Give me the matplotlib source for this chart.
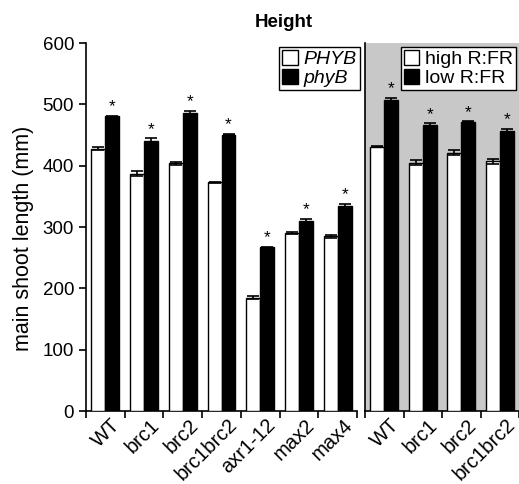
"""
Height: main shoot length for PHYB / phyB and high / low R:FR
"""

import matplotlib
matplotlib.use('Agg')
import matplotlib.pyplot as plt
from matplotlib.patches import Patch

plt.rcParams['font.family'] = ['Liberation Sans', 'DejaVu Sans']

# левая панель: PHYB / phyB
left_labels = ['WT', 'brc1', 'brc2', 'brc1brc2', 'axr1-12', 'max2', 'max4']
phyb_wt = [428, 387, 404, 373, 185, 290, 285]
phyb_wt_err = [2, 4, 2, 1, 2, 2, 2]
phyb_mut = [481, 441, 486, 451, 267, 310, 334]
phyb_mut_err = [1, 4, 4, 1, 1, 4, 4]

# правая панель: high / low R:FR
right_labels = ['WT', 'brc1', 'brc2', 'brc1brc2']
high_rfr = [431, 405, 421, 407]
high_rfr_err = [1, 4, 4, 4]
low_rfr = [507, 466, 472, 457]
low_rfr_err = [4, 3, 1, 3]

BAR_W = 0.36
FS = 13.5


def draw_panel(ax, labels, white, white_err, black, black_err):
    """
    Рисуем пары столбцов (белый / черный) со звездочками над черными
    """
    centers = [i + 0.5 for i in range(len(labels))]
    xw = [c - BAR_W / 2 for c in centers]
    xb = [c + BAR_W / 2 for c in centers]
    ax.bar(xw, white, BAR_W, yerr=white_err, color='white', edgecolor='black',
           linewidth=1.0, capsize=4, error_kw={'elinewidth': 1.2, 'capthick': 1.2},
           zorder=3)
    ax.bar(xb, black, BAR_W, yerr=black_err, color='black', edgecolor='black',
           linewidth=1.0, capsize=4, error_kw={'elinewidth': 1.2, 'capthick': 1.2},
           zorder=3)
    for x, v, e in zip(xb, black, black_err):
        ax.annotate('*', (x, v + e), xytext=(0, 1), textcoords='offset points',
                    ha='center', va='bottom', fontsize=12.5)
    ax.set_xlim(0, len(labels))
    ax.set_ylim(0, 600)
    ax.set_xticks(range(len(labels) + 1))
    ax.set_xticklabels([])
    # подписи групп под углом 45 градусов
    for c, lab in zip(centers, labels):
        ax.annotate(lab, (c, 0), xytext=(4, -3), textcoords='offset points',
                    ha='right', va='top', rotation=45, rotation_mode='anchor',
                    fontsize=14.5, annotation_clip=False)
    ax.spines['top'].set_visible(False)
    ax.spines['right'].set_visible(False)
    ax.tick_params(direction='out', length=5, width=1.2, labelsize=FS)
    for s in ('left', 'bottom'):
        ax.spines[s].set_linewidth(1.2)


fig = plt.figure(figsize=(5.19, 4.84), dpi=100)
ax1 = fig.add_axes([0.1657, 0.1508, 0.5223, 0.760])
ax2 = fig.add_axes([0.7033, 0.1508, 0.2967, 0.760])

draw_panel(ax1, left_labels, phyb_wt, phyb_wt_err, phyb_mut, phyb_mut_err)
draw_panel(ax2, right_labels, high_rfr, high_rfr_err, low_rfr, low_rfr_err)

ax1.set_yticks(range(0, 601, 100))
ax1.set_ylabel('main shoot length (mm)', fontsize=15.5)
ax1.yaxis.set_label_coords(-0.19, 0.47)
ax2.set_facecolor('#c8c8c8')
ax2.set_yticks([])

ax1.set_title('Height', fontsize=13.5, fontweight='bold', x=0.73, y=1.02)

h1 = [Patch(facecolor='white', edgecolor='black'),
      Patch(facecolor='black', edgecolor='black')]
leg1 = ax1.legend(h1, ['PHYB', 'phyB'], loc='upper right',
                  bbox_to_anchor=(1.01, 0.99), prop={'size': 14, 'style': 'italic'},
                  handlelength=0.8, handleheight=0.8, handletextpad=0.3,
                  borderpad=0.15, labelspacing=0.05, borderaxespad=0,
                  fancybox=False, framealpha=1, edgecolor='black')
leg1.get_frame().set_linewidth(1.0)
leg2 = ax2.legend(h1, ['high R:FR', 'low R:FR'], loc='upper right',
                  bbox_to_anchor=(0.98, 0.99), prop={'size': 14},
                  handlelength=0.8, handleheight=0.8, handletextpad=0.3,
                  borderpad=0.15, labelspacing=0.05, borderaxespad=0,
                  fancybox=False, framealpha=1, edgecolor='black')
leg2.get_frame().set_linewidth(1.0)

plt.savefig('out.png', dpi=100)
